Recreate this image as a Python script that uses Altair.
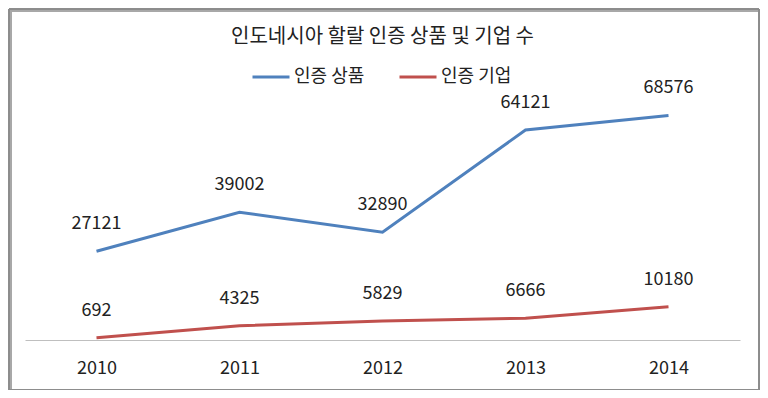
import altair as alt
import pandas as pd

years = ["2010", "2011", "2012", "2013", "2014"]
products = [27121, 39002, 32890, 64121, 68576]
companies = [692, 4325, 5829, 6666, 10180]
series_names = ["인증 상품", "인증 기업"]
series_colors = ["#4F81BD", "#C0504D"]
title_text = "인도네시아 할랄 인증 상품 및 기업 수"

rows = []
for y, v in zip(years, products):
    rows.append({"year": y, "value": v, "series": series_names[0]})
for y, v in zip(years, companies):
    rows.append({"year": y, "value": v, "series": series_names[1]})
df = pd.DataFrame(rows)

FONT = "Noto Sans CJK KR"

x = alt.X("year:O", title=None,
          scale=alt.Scale(paddingInner=0, paddingOuter=0, align=0.5),
          axis=alt.Axis(labelAngle=0, ticks=False, domainColor="#BFBFBF", domainWidth=1,
                        labelFontSize=18, labelColor="#222222", labelFont=FONT,
                        labelPadding=19, grid=False))
y = alt.Y("value:Q", title=None, scale=alt.Scale(domain=[0, 80000], nice=False), axis=None)
color = alt.Color("series:N", title=None,
                  scale=alt.Scale(domain=series_names, range=series_colors),
                  sort=series_names,
                  legend=alt.Legend(orient="none", legendX=226, legendY=-21, direction="horizontal",
                                    symbolType="stroke", symbolSize=1369, symbolStrokeWidth=3,
                                    labelFontSize=18, labelFont=FONT, labelColor="#222222",
                                    labelOffset=3, columnPadding=28))

base = alt.Chart(df)

frame_shadow = base.mark_rect(fill=None, stroke="#A8A8A8", strokeWidth=2).encode(
    x=alt.value(-14), x2=alt.value(736), y=alt.value(-67), y2=alt.value(314))
frame = base.mark_rect(fill=None, stroke="#8C8C8C", strokeWidth=1).encode(
    x=alt.value(-16), x2=alt.value(734), y=alt.value(-69), y2=alt.value(312))

lines = base.mark_line(strokeWidth=3).encode(x=x, y=y, color=color)
labels = base.mark_text(dy=-27, baseline="middle", fontSize=18, font=FONT, color="#222222").encode(
    x=x, y=y, text=alt.Text("value:Q", format="d"))

chart = alt.layer(frame_shadow, frame, lines, labels).properties(
    width=715, height=262,
    title=alt.TitleParams(title_text, fontSize=20, font=FONT, fontWeight="normal",
                          color="#222222", anchor="middle", offset=-38),
    autosize=alt.AutoSizeParams(type="none"),
    padding={"left": 17, "top": 70, "right": 20, "bottom": 50},
).configure_view(stroke=None)

chart.save("out.html", embed_options={"renderer": "svg", "actions": False})
